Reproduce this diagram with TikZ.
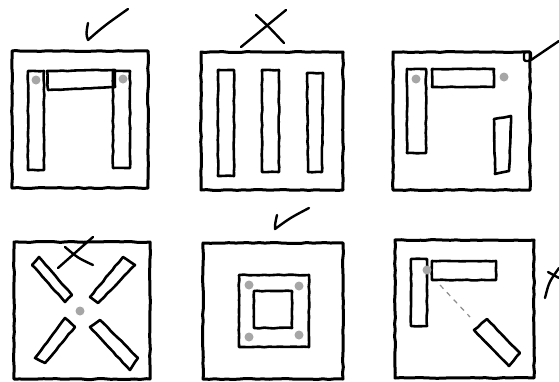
\documentclass[tikz,border=0pt]{standalone}
\usetikzlibrary{decorations.pathmorphing}
\pgfmathsetseed{7}
\tikzset{
  frame/.style={line width=3pt,line join=round,line cap=round,decorate,decoration={random steps,segment length=6pt,amplitude=.5pt}},
  bar/.style={line width=2.6pt,line join=round,line cap=round,decorate,decoration={random steps,segment length=5pt,amplitude=.4pt}},
  stroke/.style={line width=2.4pt,line cap=round,line join=round},
  pin/.style={fill=black!35},
  guide/.style={black!45,dash pattern=on 5pt off 5pt,line width=1.2pt}
}
\begin{document}
\begin{tikzpicture}[x=1pt,y=-1pt]
\useasboundingbox[fill=white] (0,0) rectangle (559,381);
% top left
\draw[frame] (12,51) rectangle (148,188);
\draw[bar] (28,71) rectangle (44,170);
\draw[bar] (113,71) rectangle (130,168);
\draw[bar] (47,71)--(115,70)--(115,87)--(48,90)--cycle;
\fill[pin] (36,80) circle[radius=4.5];
\fill[pin] (123,79) circle[radius=4.5];
\draw[stroke] (88,23) .. controls (86,34) .. (88,40) .. controls (104,26) .. (128,9);
% top middle
\draw[frame] (201,52) rectangle (343,190);
\draw[bar] (218,70) rectangle (234,176);
\draw[bar] (262,70) rectangle (279,172);
\draw[bar] (307,73)--(323,73)--(322,172)--(308,172)--cycle;
\draw[stroke] (241,47) -- (286,10);
\draw[stroke] (256,15) .. controls (268,26) .. (284,43);
% top right
\draw[frame] (393,52) rectangle (530,190);
\draw[bar] (407,69) rectangle (426,153);
\draw[bar] (432,69) rectangle (494,87);
\draw[bar] (494,119)--(511,116)--(509,171)--(495,174)--cycle;
\fill[pin] (416,79) circle[radius=4.5];
\fill[pin] (504,77) circle[radius=4.5];
\draw[stroke,rounded corners=2pt] (524,52) rectangle (531,61);
\draw[stroke] (531,60) -- (559,41);
% bottom left
\draw[frame] (14,242) rectangle (150,379);
\draw[bar] (32,265)--(39,257)--(72,295)--(65,302)--cycle;
\draw[bar] (123,257)--(135,265)--(98,303)--(90,297)--cycle;
\draw[bar] (65,318)--(75,327)--(45,363)--(35,358)--cycle;
\draw[bar] (90,327)--(100,320)--(138,358)--(130,370)--cycle;
\fill[pin] (80,311) circle[radius=4.5];
\draw[stroke] (58,268) -- (93,237);
\draw[stroke] (65,247) .. controls (78,258) .. (93,265);
% bottom middle
\draw[frame] (203,243) rectangle (343,379);
\draw[bar] (239,275) rectangle (309,347);
\draw[bar] (254,291) rectangle (292,328);
\fill[pin] (249,285) circle[radius=4.5];
\fill[pin] (299,286) circle[radius=4.5];
\fill[pin] (249,337) circle[radius=4.5];
\fill[pin] (299,335) circle[radius=4.5];
\draw[stroke] (277,215) .. controls (275,224) .. (275,229) .. controls (290,218) .. (309,208);
% bottom right
\draw[frame] (395,240) rectangle (534,378);
\draw[bar] (411,259) rectangle (427,326);
\draw[bar] (432,261) rectangle (496,280);
\draw[bar] (474,330)--(487,319)--(520,353)--(509,366)--cycle;
\fill[pin] (427,270) circle[radius=4.5];
\draw[guide] (440,285) -- (470,317);
\draw[stroke] (545,298) .. controls (549,282) .. (559,268);
\draw[stroke] (548,272) -- (559,278);
\end{tikzpicture}
\end{document}
